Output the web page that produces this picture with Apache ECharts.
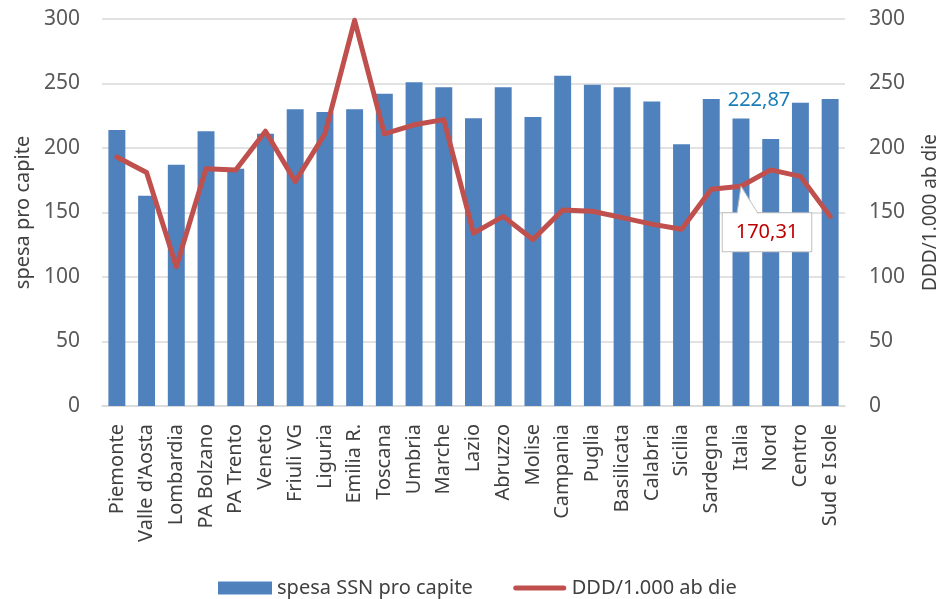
<!DOCTYPE html>
<html><head><meta charset="utf-8">
<script src="https://cdn.jsdelivr.net/npm/echarts@6/dist/echarts.min.js"></script>
<style>html,body{margin:0;padding:0;background:#fff}#c{width:940px;height:599px}</style>
</head><body><div id="c"></div>
<script>
const categories = ["Piemonte","Valle d'Aosta","Lombardia","PA Bolzano","PA Trento","Veneto","Friuli VG","Liguria","Emilia R.","Toscana","Umbria","Marche","Lazio","Abruzzo","Molise","Campania","Puglia","Basilicata","Calabria","Sicilia","Sardegna","Italia","Nord","Centro","Sud e Isole"];
const spesa = [214,163,187,213,184,211,230,228,230,242,251,247,223,247,224,256,249,247,236,203,238,222.87,207,235,238];
const ddd = [193,181,108,184,183,213,174,211,299,211,218,222,134,147,129,152,151,146,141,137,168,170.31,183,178,147];
const yTicks = [0,50,100,150,200,250,300];
const highlightIndex = 21;
const spesaLabel = '222,87';
const dddLabel = '170,31';

const font = "Noto Sans, sans-serif";
const chart = echarts.init(document.getElementById('c'));
const barData = spesa.map((v,i)=> i===highlightIndex ? {value:v,label:{show:true,position:'top',offset:[18,-3],formatter:spesaLabel,color:'#1B7DB8',fontSize:20,fontFamily:font}} : v);
const lineData = ddd.map((v,i)=> i===highlightIndex ? {value:v,symbol:'circle',symbolSize:1,
  label:{show:true,position:'inside',formatter:dddLabel,color:'#C00000',fontSize:20,lineHeight:26,fontFamily:font,backgroundColor:'#fff',borderColor:'#BFBFBF',borderWidth:1,padding:[6,13,6,13]}} : v);
const calloutDx = 26, calloutDy = 46;
const lineIcon = 'path://M0,0L0.1,0L0,0.1Z M3,4 L51,4 A2.5,2.5 0 0 1 51,9 L3,9 A2.5,2.5 0 0 1 3,4 Z M54,13L53.9,13L54,12.9Z';
chart.setOption({
  animation:false,
  textStyle:{fontFamily:font},
  grid:{left:102,right:95,top:19,bottom:193,outerBoundsMode:'none'},
  legend:{bottom:-4,left:213,itemGap:40,itemWidth:54,itemHeight:13,
    textStyle:{fontSize:20,color:'#404040',fontFamily:font},
    data:[{name:'spesa SSN pro capite',icon:'rect'},{name:'DDD/1.000 ab die',icon:lineIcon,itemStyle:{color:'#C0504D'}}]},
  xAxis:{type:'category',data:categories,
    axisLine:{lineStyle:{color:'#D9D9D9',width:1.5}},axisTick:{show:false},
    axisLabel:{rotate:90,interval:0,fontSize:20,color:'#404040',margin:18,fontFamily:font}},
  yAxis:[
    {type:'value',min:yTicks[0],max:yTicks[yTicks.length-1],interval:50,
     name:'spesa pro capite',nameLocation:'middle',nameGap:62,nameRotate:90,
     nameTextStyle:{fontSize:20,color:'#404040',fontFamily:font},
     axisLabel:{fontSize:21,color:'#595959',margin:22,fontFamily:font},
     splitLine:{lineStyle:{color:'#D9D9D9',width:1.5}},axisLine:{show:false},axisTick:{show:false}},
    {type:'value',min:yTicks[0],max:yTicks[yTicks.length-1],interval:50,
     name:'DDD/1.000 ab die',nameLocation:'middle',nameGap:76,nameRotate:90,
     nameTextStyle:{fontSize:19,color:'#404040',fontFamily:font},
     axisLabel:{fontSize:21,color:'#595959',margin:24,fontFamily:font},
     splitLine:{show:false},axisLine:{show:false},axisTick:{show:false}}
  ],
  series:[
    {name:'spesa SSN pro capite',type:'bar',data:barData,barWidth:'57%',
     itemStyle:{color:'#4F81BD'}},
    {name:'DDD/1.000 ab die',type:'line',yAxisIndex:1,data:lineData,symbol:'none',z:3,
     lineStyle:{color:'#C0504D',width:5,cap:'round',join:'round'},itemStyle:{color:'#C0504D'},
     labelLayout:function(p){return p.dataIndex===highlightIndex?{dx:calloutDx,dy:calloutDy}:{};}}
  ]
});
// callout pointer, anchored on the library's own pixel conversion
const tip = chart.convertToPixel({seriesIndex:1}, [highlightIndex, ddd[highlightIndex]]);
const boxTop = tip[1] + calloutDy - 19;
chart.setOption({graphic:[
  {type:'polygon',z:200,shape:{points:[[tip[0],tip[1]],[tip[0]-4,boxTop+1.5],[tip[0]+17,boxTop+1.5]]},style:{fill:'#fff',stroke:null}},
  {type:'polyline',z:201,shape:{points:[[tip[0]-4,boxTop],[tip[0],tip[1]],[tip[0]+17,boxTop]]},style:{stroke:'#BFBFBF',lineWidth:1,fill:null}}
]});
</script></body></html>
